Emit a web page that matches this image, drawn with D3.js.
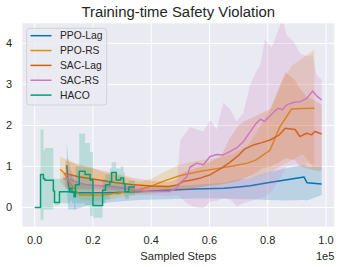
<!DOCTYPE html>
<html>
<head>
<meta charset="utf-8">
<script src="https://cdnjs.cloudflare.com/ajax/libs/d3/7.8.5/d3.min.js"></script>
<style>
  body { margin: 0; background: #fff; }
  svg { display: block; font-family: "Liberation Sans", Arial, sans-serif; }
</style>
</head>
<body>
<div id="chart"></div>
<script>
// --------- data (x in thousands of steps) ---------- //
var seriesNames = ["PPO-Lag", "PPO-RS", "SAC-Lag", "SAC-RS", "HACO"];
var seriesColors = ["#0173b2", "#de8f05", "#d55e00", "#cc78bc", "#029e73"];

var ppoLagX  = [11, 11.5, 12, 14, 18, 25, 30, 36, 45, 55, 65, 70, 74, 80, 86, 92.5, 93.5, 98.5];
var ppoLagY  = [1.03, 0.6, 0.38, 0.36, 0.36, 0.36, 0.37, 0.38, 0.42, 0.45, 0.47, 0.5, 0.53, 0.6, 0.67, 0.74, 0.6, 0.57];
var ppoLagLo = [0.5, -0.05, -0.05, -0.05, 0.05, 0.12, 0.15, 0.18, 0.2, 0.22, 0.22, 0.2, 0.2, 0.18, 0.17, 0.18, 0.17, 0.3];
var ppoLagHi = [1.6, 1.2, 1.0, 0.6, 0.55, 0.55, 0.52, 0.5, 0.52, 0.55, 0.6, 0.68, 0.72, 0.85, 0.95, 1.05, 1.0, 1.0];

var ppoRsX  = [8.7, 10, 12, 14, 15.5, 20, 24, 30, 36, 40, 45, 50, 57, 62, 68, 73, 76, 80.8, 84.2, 88.2, 92, 96];
var ppoRsY  = [0.93, 0.85, 0.6, 0.42, 0.3, 0.3, 0.31, 0.36, 0.43, 0.52, 0.66, 0.78, 0.88, 0.94, 1.01, 1.08, 1.16, 1.4, 1.97, 2.4, 2.41, 2.42];
var ppoRsLo = [0.6, 0.55, 0.45, 0.3, 0.2, 0.15, 0.18, 0.25, 0.3, 0.33, 0.4, 0.45, 0.5, 0.55, 0.62, 0.72, 0.75, 0.85, 1.0, 1.15, 1.3, 0.95];
var ppoRsHi = [1.25, 1.2, 1.15, 1.05, 1.0, 0.95, 0.85, 0.75, 0.62, 0.7, 0.88, 1.05, 1.15, 1.2, 1.3, 1.5, 1.8, 2.4, 3.0, 3.45, 3.65, 3.85];

var sacLagX  = [10.4, 15, 22, 28, 34, 40, 46, 49, 51, 54, 57, 60, 64, 67, 70, 72, 75, 78, 81, 84, 86, 89.4, 91, 93.4, 95, 96.2, 98.5];
var sacLagY  = [0.83, 0.75, 0.67, 0.6, 0.55, 0.52, 0.51, 0.55, 0.63, 0.67, 0.72, 0.79, 0.95, 1.1, 1.27, 1.42, 1.52, 1.58, 1.65, 1.77, 1.93, 1.9, 1.73, 1.81, 1.77, 1.85, 1.79];
var sacLagLo = [0.45, 0.45, 0.45, 0.42, 0.4, 0.4, 0.4, 0.4, 0.42, 0.45, 0.5, 0.52, 0.55, 0.6, 0.65, 0.72, 0.8, 0.95, 1.0, 1.1, 1.2, 1.15, 1.0, 0.95, 0.92, 0.9, 0.88];
var sacLagHi = [1.15, 1.05, 0.92, 0.82, 0.72, 0.65, 0.62, 0.7, 0.85, 0.92, 1.0, 1.1, 1.25, 1.7, 2.0, 2.1, 2.2, 2.3, 2.4, 2.9, 3.3, 3.1, 2.9, 2.7, 2.65, 2.6, 2.5];

var sacRsX  = [9.8, 12.1, 15.6, 17.9, 25.9, 38.4, 46.4, 48.7, 50, 52.2, 53.3, 55.6, 57.9, 60.2, 62.5, 64.7, 67, 69.3, 71.6, 74, 76, 77.5, 79, 81.4, 83.5, 85, 86.5, 88.8, 91.1, 93.4, 95.4, 96.8, 98.5];
var sacRsY  = [0.71, 0.68, 0.59, 0.55, 0.51, 0.39, 0.39, 0.47, 0.6, 0.75, 0.98, 1.08, 1.04, 1.24, 1.29, 1.28, 1.36, 1.45, 1.6, 1.85, 2.05, 2.15, 2.1, 2.28, 2.42, 2.38, 2.5, 2.56, 2.58, 2.66, 2.84, 2.72, 2.62];
var sacRsLo = [0.5, 0.48, 0.45, 0.42, 0.38, 0.3, 0.28, 0.3, 0.25, 0.1, 0.05, 0.0, -0.02, 0.14, 0.16, 0.22, 0.2, 0.02, 0.1, 0.15, 0.2, 0.22, 0.26, 0.4, 0.62, 0.8, 1.0, 1.03, 1.05, 1.08, 1.05, 1.02, 1.0];
var sacRsHi = [0.85, 0.82, 0.75, 0.72, 0.62, 0.5, 0.5, 0.55, 1.65, 1.85, 1.97, 1.9, 1.85, 2.13, 1.9, 2.55, 2.4, 2.1, 2.3, 3.0, 3.3, 3.5, 4.09, 3.9, 4.3, 4.6, 4.2, 4.05, 3.76, 3.68, 3.72, 3.23, 3.11];

var hacoX  = [0, 2.0, 3.0, 3.5, 6.4, 6.8, 8.5, 12.1, 12.8, 13.5, 14.0, 15.3, 17.3, 19.0, 20.0, 23.3, 24.3, 25.8, 26.4, 28.0, 29.5, 30.5, 31.0, 32.3, 34.4];
var hacoY  = [0, 0.8, 0.7, 0.66, 0.4, 0.12, 0.38, 0.47, 0.38, 0.26, 0.55, 0.88, 0.8, 0.67, 0.05, 0.42, 0.55, 0.63, 0.85, 0.67, 0.72, 0.58, 0.38, 0.5, 0.5];
var hacoLo = [0, -0.3, -0.05, -0.05, 0.1, 0.05, 0.1, 0.15, 0.1, -0.05, 0.1, 0.1, 0.05, -0.2, -0.25, 0.1, 0.2, 0.3, 0.4, 0.3, 0.4, 0.3, 0.2, 0.3, 0.3];
var hacoHi = [0, 1.9, 1.4, 1.45, 0.72, 0.7, 0.7, 0.8, 0.7, 0.6, 1.0, 1.8, 1.57, 1.35, 0.3, 0.7, 0.8, 0.95, 1.1, 0.95, 1.0, 0.85, 0.6, 0.65, 0.6];

var xTicks = [0, 20, 40, 60, 80, 100];
var xTickLabels = ["0.0", "0.2", "0.4", "0.6", "0.8", "1.0"];
var yTicks = [0, 1, 2, 3, 4];

// --------- chart ---------- //
(function(){
	var W = 343, H = 267;
	var L = 22.3, R = 334.3, T = 23.3, B = 226.7;

	var x = d3.scaleLinear().domain([-4.26, 102.85]).range([L, R]);
	var y = d3.scaleLinear().domain([-0.47, 4.49]).range([B, T]);

	var svg = d3.select("#chart").append("svg")
		.attr("width", W).attr("height", H);

	svg.append("rect").attr("x", L).attr("y", T)
		.attr("width", R - L).attr("height", B - T)
		.attr("fill", "#eaeaf2");

	svg.append("defs").append("clipPath").attr("id", "clip")
		.append("rect").attr("x", L).attr("y", T)
		.attr("width", R - L).attr("height", B - T);

	// grid
	svg.append("g").selectAll("line").data(xTicks).enter().append("line")
		.attr("x1", function(d){ return x(d); }).attr("x2", function(d){ return x(d); })
		.attr("y1", T).attr("y2", B)
		.attr("stroke", "#fff").attr("stroke-width", 1);
	svg.append("g").selectAll("line").data(yTicks).enter().append("line")
		.attr("y1", function(d){ return y(d); }).attr("y2", function(d){ return y(d); })
		.attr("x1", L).attr("x2", R)
		.attr("stroke", "#fff").attr("stroke-width", 1);

	var series = [
		{xs: ppoLagX, ys: ppoLagY, lo: ppoLagLo, hi: ppoLagHi, step: false},
		{xs: ppoRsX, ys: ppoRsY, lo: ppoRsLo, hi: ppoRsHi, step: false},
		{xs: sacLagX, ys: sacLagY, lo: sacLagLo, hi: sacLagHi, step: false},
		{xs: sacRsX, ys: sacRsY, lo: sacRsLo, hi: sacRsHi, step: false},
		{xs: hacoX, ys: hacoY, lo: hacoLo, hi: hacoHi, step: true}
	];

	var plot = svg.append("g").attr("clip-path", "url(#clip)");

	series.forEach(function(s, i){
		var pts = s.xs.map(function(v, k){ return {x: v, y: s.ys[k], lo: s.lo[k], hi: s.hi[k]}; });
		var curve = s.step ? d3.curveStepAfter : d3.curveLinear;

		var area = d3.area().curve(curve)
			.x(function(d){ return x(d.x); })
			.y0(function(d){ return y(d.lo); })
			.y1(function(d){ return y(d.hi); });
		plot.append("path").datum(pts)
			.attr("d", area)
			.attr("fill", seriesColors[i])
			.attr("fill-opacity", 0.2);

		var line = d3.line().curve(curve)
			.x(function(d){ return x(d.x); })
			.y(function(d){ return y(d.y); });
		plot.append("path").datum(pts)
			.attr("d", line)
			.attr("fill", "none")
			.attr("stroke", seriesColors[i])
			.attr("stroke-width", 1.5)
			.attr("stroke-linejoin", "round");
	});

	// tick labels
	svg.append("g").selectAll("text").data(xTicks).enter().append("text")
		.attr("x", function(d){ return x(d); }).attr("y", 244)
		.attr("text-anchor", "middle")
		.attr("font-size", 11).attr("fill", "#262626")
		.text(function(d, i){ return xTickLabels[i]; });
	svg.append("g").selectAll("text").data(yTicks).enter().append("text")
		.attr("x", 12).attr("y", function(d){ return y(d) + 4; })
		.attr("text-anchor", "end")
		.attr("font-size", 11).attr("fill", "#262626")
		.text(function(d){ return d; });

	svg.append("text").attr("x", (L + R) / 2).attr("y", 260)
		.attr("text-anchor", "middle").attr("font-size", 11.2).attr("fill", "#262626")
		.text("Sampled Steps");
	svg.append("text").attr("x", R).attr("y", 260)
		.attr("text-anchor", "end").attr("font-size", 11).attr("fill", "#262626")
		.text("1e5");
	svg.append("text").attr("x", (L + R) / 2).attr("y", 17)
		.attr("text-anchor", "middle").attr("font-size", 14.9).attr("fill", "#262626")
		.text("Training-time Safety Violation");

	// legend
	var lg = svg.append("g");
	lg.append("rect").attr("x", 26.7).attr("y", 28.3)
		.attr("width", 80).attr("height", 76.7)
		.attr("rx", 3).attr("fill", "#eaeaf2").attr("fill-opacity", 0.8)
		.attr("stroke", "#cccccc").attr("stroke-width", 0.8);
	seriesNames.forEach(function(name, i){
		var ly = 35.7 + i * 14.85;
		lg.append("line").attr("x1", 30.5).attr("x2", 51.5)
			.attr("y1", ly).attr("y2", ly)
			.attr("stroke", seriesColors[i]).attr("stroke-width", 1.5);
		lg.append("text").attr("x", 60).attr("y", ly + 3.7)
			.attr("font-size", 10.3).attr("fill", "#262626")
			.text(name);
	});
})();
</script>
</body>
</html>
